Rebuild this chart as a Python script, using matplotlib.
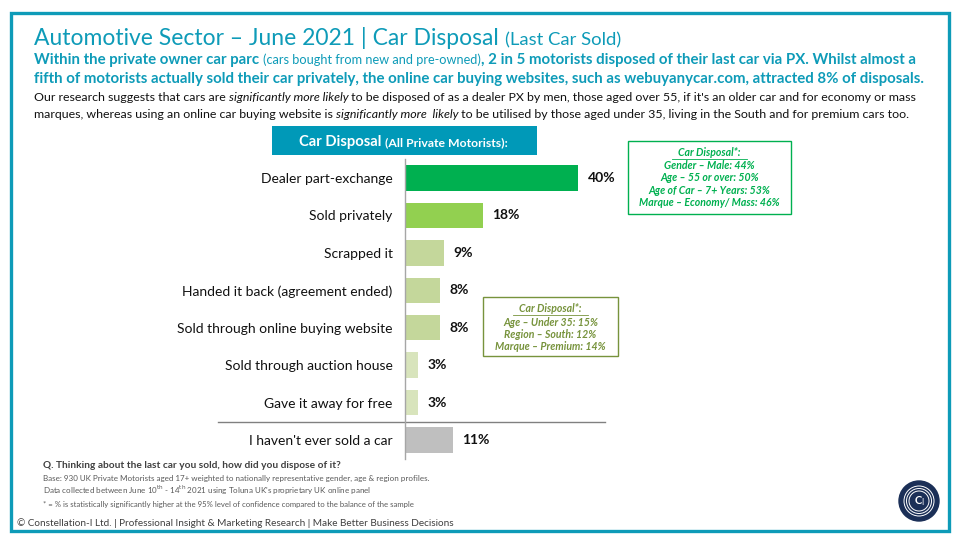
import matplotlib.pyplot as plt
from matplotlib.patches import Rectangle, Circle

plt.rcParams['font.family'] = ['Lato', 'DejaVu Sans']

# data
categories = ['Dealer part-exchange', 'Sold privately', 'Scrapped it',
              'Handed it back (agreement ended)', 'Sold through online buying website',
              'Sold through auction house', 'Gave it away for free',
              "I haven't ever sold a car"]
values = [40, 18, 9, 8, 8, 3, 3, 11]
bar_colors = ['#00B050', '#92D050', '#C4D79B', '#C4D79B', '#C4D79B',
              '#D8E4BC', '#D8E4BC', '#BFBFBF']

box1_lines = ['Gender – Male: 44%', 'Age – 55 or over: 50%',
              'Age of Car – 7+ Years: 53%', 'Marque – Economy/ Mass: 46%']
box2_lines = ['Age – Under 35: 15%', 'Region – South: 12%', 'Marque – Premium: 14%']

TEAL = '#0E9BB8'
W, H = 960, 540

fig = plt.figure(figsize=(9.6, 5.4), dpi=100)
bg = fig.add_axes([0, 0, 1, 1])
bg.set_xlim(0, W)
bg.set_ylim(H, 0)
bg.axis('off')
renderer = fig.canvas.get_renderer()


def rich(x, y, parts, **kw):
    # place text pieces one after another on a line (pixel coords)
    for s, props in parts:
        t = bg.text(x, y, s, va='baseline', ha='left', **props, **kw)
        bb = t.get_window_extent(renderer=renderer)
        x += bb.width


# frame
bg.add_patch(Rectangle((11, 13), 938, 518, fill=False, ec=TEAL, lw=2.4))

# title
rich(34, 45, [('Automotive Sector – June 2021 | Car Disposal ', dict(fontsize=16.5, color=TEAL)),
              ('(Last Car Sold)', dict(fontsize=13.3, color=TEAL))])

sb = dict(fontsize=10.85, color=TEAL, fontweight='bold')
rich(34, 64, [('Within the private owner car parc ', sb),
              ('(cars bought from new and pre-owned)', dict(fontsize=9.2, color=TEAL)),
              (', 2 in 5 motorists disposed of their last car via PX. Whilst almost a', sb)])
rich(34, 83, [('fifth of motorists actually sold their car privately, the online car buying websites, '
               'such as webuyanycar.com, attracted 8% of disposals.', sb)])

nb = dict(fontsize=8.9, color='#111111')
it = dict(fontsize=8.9, color='#111111', style='italic')
rich(34, 101, [('Our research suggests that cars are ', nb), ('significantly more likely', it),
               (" to be disposed of as a dealer PX by men, those aged over 55, if it's an older car "
                'and for economy or mass', nb)])
rich(34, 118, [('marques, whereas using an online car buying website is ', nb),
               ('significantly more  likely', it),
               (' to be utilised by those aged under 35, living in the South and for premium cars too.', nb)])

# chart header box
bg.add_patch(Rectangle((272, 126), 265, 29, color='#0099B8', lw=0))
rich(299, 146, [('Car Disposal ', dict(fontsize=10.6, color='white', fontweight='bold')),
                ('(All Private Motorists):', dict(fontsize=8.8, color='white', fontweight='bold'))])

# bar chart
px = 4.33
ax = fig.add_axes([405 / W, 1 - 458.7 / H, 100 * px / W, (458.7 - 159.3) / H])
ax.set_facecolor('none')
ypos = list(range(len(categories)))
ax.barh(ypos, values, height=0.68, color=bar_colors)
ax.set_xlim(0, 100)
ax.set_ylim(len(categories) - 0.5, -0.5)
for s in ['top', 'right', 'bottom']:
    ax.spines[s].set_visible(False)
ax.spines['left'].set_color('#A6A6A6')
ax.spines['left'].set_linewidth(1)
ax.set_xticks([])
ax.set_yticks(ypos)
ax.set_yticklabels(categories, fontsize=10, color='#111111')
ax.tick_params(axis='y', length=0, pad=9)
for y, v in zip(ypos, values):
    ax.text(v + 2.2, y, f'{v}%', va='center', ha='left', fontsize=10,
            fontweight='bold', color='#111111')

# separator above "never sold"
bg.plot([218, 605], [421.5, 421.5], color='#808080', lw=1)

# significance box 1
bg.add_patch(Rectangle((628, 141), 163, 73, fill=False, ec='#00B050', lw=1))
g1 = dict(fontsize=7.6, color='#00B050', style='italic', fontweight='bold', ha='center', va='center')
bg.text(709.5, 153, 'Car Disposal*:', **g1)
bg.plot([672, 747], [159, 159], color='#00B050', lw=0.6)
for i, s in enumerate(box1_lines):
    bg.text(709.5, 165.5 + i * 12.3, s, **g1)

# significance box 2
OLIVE = '#77933C'
bg.add_patch(Rectangle((483, 297), 135, 59, fill=False, ec=OLIVE, lw=1))
g2 = dict(fontsize=7.6, color=OLIVE, style='italic', fontweight='bold', ha='center', va='center')
bg.text(550.5, 309, 'Car Disposal*:', **g2)
bg.plot([513, 588], [315, 315], color=OLIVE, lw=0.6)
for i, s in enumerate(box2_lines):
    bg.text(550.5, 322 + i * 12.3, s, **g2)

# footnotes
bg.text(43, 468, 'Q. Thinking about the last car you sold, how did you dispose of it?',
        fontsize=7.3, fontweight='bold', color='#404040', va='baseline')
fn = dict(fontsize=5.8, color='#595959', va='baseline')
bg.text(43, 481, 'Base: 930 UK Private Motorists aged 17+ weighted to nationally representative '
        'gender, age & region profiles.', **fn)
bg.text(43, 494, 'Data collected between June 10$^{\\mathrm{th}}$ - 14$^{\\mathrm{th}}$ 2021 using Toluna UK\'s '
        'proprietary UK online panel', **fn)
bg.text(43, 507, '* = % is statistically significantly higher at the 95% level of confidence '
        'compared to the balance of the sample', fontsize=5.6, color='#595959', va='baseline')
bg.text(17, 526, '© Constellation-I Ltd. | Professional Insight & Marketing Research | '
        'Make Better Business Decisions', fontsize=7.2, color='#404040', va='baseline')

# logo
bg.add_patch(Circle((919, 501), 20, color='#1B2F57'))
for r in (15, 12.5, 10):
    bg.add_patch(Circle((919, 501), r, fill=False, ec='white', lw=0.7))
bg.add_patch(Circle((919, 501), 8, color='#1B2F57'))
bg.text(919, 501, 'C$_\\mathrm{I}$', color='white', fontsize=8, fontweight='bold',
        ha='center', va='center')

fig.savefig('out.png', dpi=100)
